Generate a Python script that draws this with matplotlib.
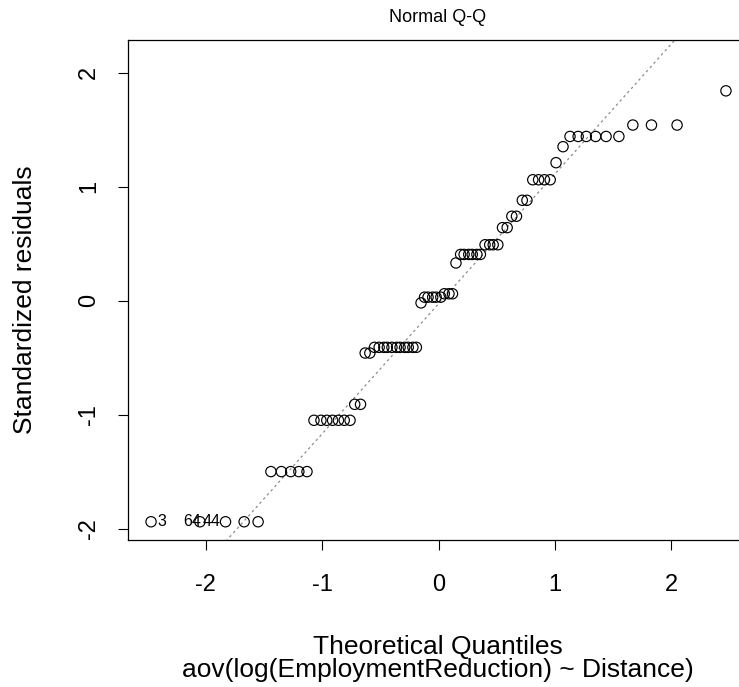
import numpy as np
import matplotlib
matplotlib.use("Agg")
import matplotlib.pyplot as plt
from statistics import NormalDist

# theoretical quantiles
theo_q = [-2.47, -2.05, -1.83, -1.67, -1.55, -1.44, -1.35, -1.27, -1.20, -1.13,
          -1.07, -1.01, -0.96, -0.91, -0.86, -0.81, -0.76, -0.72, -0.67, -0.63,
          -0.59, -0.55, -0.51, -0.47, -0.44, -0.40, -0.36, -0.33, -0.29, -0.26,
          -0.22, -0.19, -0.15, -0.12, -0.09, -0.05, -0.02,
          0.02, 0.05, 0.09, 0.12, 0.15, 0.19, 0.22, 0.26, 0.29, 0.33,
          0.36, 0.40, 0.44, 0.47, 0.51, 0.55, 0.59, 0.63, 0.67, 0.72,
          0.76, 0.81, 0.86, 0.91, 0.96, 1.01, 1.07, 1.13, 1.20, 1.27,
          1.35, 1.44, 1.55, 1.67, 1.83, 2.05, 2.47]

# standardized residual levels (sorted) and how many points sit on each
res_levels = [-1.94, -1.50, -1.05, -0.91, -0.46, -0.41, -0.02, 0.03, 0.06, 0.33,
              0.405, 0.49, 0.64, 0.74, 0.88, 1.06, 1.21, 1.35, 1.44, 1.54, 1.84]
res_counts = [5, 5, 7, 2, 2, 11, 1, 5, 3, 1,
              6, 4, 2, 2, 2, 4, 1, 1, 6, 3, 1]
std_res = np.repeat(res_levels, res_counts)

# labelled points (index into sorted data, label text)
point_labels = [(0, "3"), (1, "64"), (1, "44")]
label_offsets = [6, -17, 3]   # px to the right of the point

plt.rcParams['font.family'] = ['Liberation Sans', 'DejaVu Sans']

W, H = 739, 687
fig = plt.figure(figsize=(W / 100, H / 100), dpi=100)
ax = fig.add_axes([128 / W, 147 / H, 621 / W, 500 / H])

ax.scatter(theo_q, std_res, s=55, facecolors='none', edgecolors='black',
           linewidths=0.85, zorder=3)

# qqline through the quartiles, like R
q1, q3 = np.percentile(std_res, [25, 75])
z3 = NormalDist().inv_cdf(0.75)
slope = (q3 - q1) / (2 * z3)
icpt = q1 + slope * z3
xs = np.array([-3.0, 3.0])
ax.plot(xs, icpt + slope * xs, color='#8c8c8c', linestyle=(0, (2, 2.5)),
        linewidth=0.9, zorder=2)

for (k, txt), off in zip(point_labels, label_offsets):
    ax.annotate(txt, (theo_q[k], std_res[k]), xytext=(off * 0.72, 0),
                textcoords='offset points', ha='left', va='center',
                fontsize=11.5, color='black')

ax.set_xlim(-2.668, 2.668)
ax.set_ylim(-2.10, 2.286)
ax.set_xticks([-2, -1, 0, 1, 2])
ax.set_yticks([-2, -1, 0, 1, 2])
ax.set_xticklabels(['-2', '-1', '0', '1', '2'])
ax.set_yticklabels(['-2', '-1', '0', '1', '2'], rotation=90, va='center')
ax.tick_params(direction='out', length=7, width=0.8, labelsize=17)
ax.tick_params(axis='x', pad=17.5)
ax.tick_params(axis='y', pad=13)
for sp in ax.spines.values():
    sp.set_linewidth(0.9)

fs = 19
fig.text(438 / W, 1 - 18 / H, 'Normal Q-Q', ha='center', va='center', fontsize=13)
fig.text(25 / W, 1 - 300 / H, 'Standardized residuals', rotation=90,
         ha='center', va='center', fontsize=fs)
fig.text(438 / W, 1 - 647 / H, 'Theoretical Quantiles', ha='center',
         va='center', fontsize=fs)
fig.text(438 / W, 1 - 670 / H, 'aov(log(EmploymentReduction) ~ Distance)',
         ha='center', va='center', fontsize=fs)

fig.savefig('out.png', dpi=100)
